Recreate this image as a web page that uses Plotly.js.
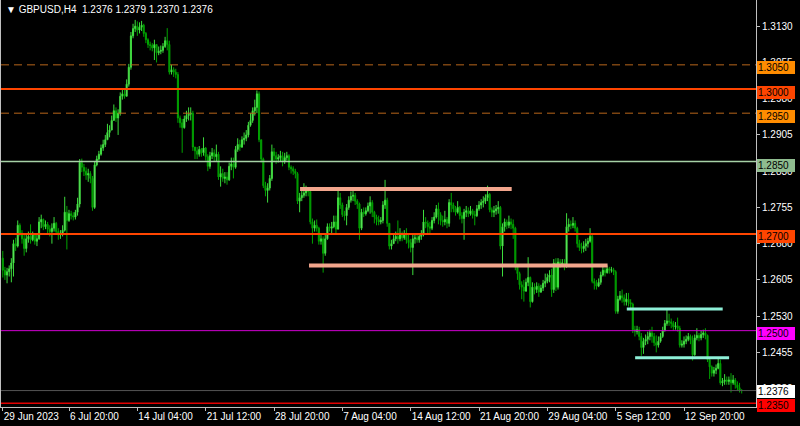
<!DOCTYPE html>
<html><head><meta charset="utf-8">
<script src="https://cdn.plot.ly/plotly-3.0.1.min.js"></script>
<style>html,body{margin:0;padding:0;background:#000;}#chart{width:800px;height:426px;}</style>
</head><body><div id="chart"></div>
<script>
const symbol = 'GBPUSD,H4';
const openP = [
1.2650,1.2625,1.2615,1.2622,1.2628,1.2640,1.2680,1.2675,1.2718,1.2702,
1.2690,1.2670,1.2690,1.2695,1.2688,1.2698,1.2685,1.2690,1.2725,1.2730,
1.2715,1.2720,1.2710,1.2705,1.2712,1.2722,1.2705,1.2698,1.2700,1.2708,
1.2745,1.2728,1.2742,1.2738,1.2735,1.2745,1.2762,1.2848,1.2838,1.2830,
1.2822,1.2825,1.2815,1.2755,1.2843,1.2855,1.2865,1.2878,1.2885,1.2895,
1.2910,1.2915,1.2935,1.2955,1.2940,1.2950,1.2985,1.2990,1.2985,1.3010,
1.3045,1.3110,1.3125,1.3130,1.3122,1.3128,1.3132,1.3115,1.3102,1.3092,
1.3090,1.3085,1.3092,1.3075,1.3078,1.3080,1.3088,1.3100,1.3092,1.3035,
1.3040,1.3035,1.3030,1.2940,1.2930,1.2920,1.2938,1.2945,1.2948,1.2950,
1.2880,1.2872,1.2865,1.2875,1.2868,1.2878,1.2860,1.2840,1.2862,1.2868,
1.2860,1.2865,1.2818,1.2825,1.2815,1.2818,1.2812,1.2840,1.2845,1.2838,
1.2875,1.2885,1.2880,1.2895,1.2898,1.2905,1.2925,1.2935,1.2955,1.2962,
1.2990,1.2895,1.2855,1.2800,1.2790,1.2795,1.2815,1.2870,1.2862,1.2855,
1.2858,1.2862,1.2850,1.2858,1.2862,1.2838,1.2835,1.2830,1.2825,1.2768,
1.2775,1.2780,1.2785,1.2790,1.2788,1.2725,1.2712,1.2718,1.2712,1.2685,
1.2690,1.2660,1.2690,1.2715,1.2712,1.2715,1.2725,1.2710,1.2775,1.2760,
1.2740,1.2738,1.2755,1.2770,1.2778,1.2780,1.2768,1.2762,1.2712,1.2745,
1.2742,1.2748,1.2758,1.2765,1.2745,1.2735,1.2730,1.2725,1.2728,1.2760,
1.2770,1.2722,1.2675,1.2680,1.2690,1.2695,1.2690,1.2700,1.2692,1.2698,
1.2688,1.2682,1.2672,1.2690,1.2692,1.2688,1.2695,1.2698,1.2725,1.2722,
1.2715,1.2712,1.2728,1.2735,1.2752,1.2740,1.2728,1.2725,1.2730,1.2722,
1.2765,1.2760,1.2752,1.2745,1.2755,1.2738,1.2732,1.2745,1.2748,1.2742,
1.2748,1.2740,1.2738,1.2752,1.2760,1.2765,1.2768,1.2775,1.2782,1.2750,
1.2745,1.2748,1.2752,1.2755,1.2675,1.2715,1.2725,1.2718,1.2725,1.2720,
1.2712,1.2632,1.2618,1.2595,1.2590,1.2582,1.2600,1.2610,1.2560,1.2590,
1.2585,1.2592,1.2580,1.2588,1.2598,1.2602,1.2610,1.2615,1.2585,1.2640,
1.2590,1.2642,1.2638,1.2640,1.2635,1.2715,1.2720,1.2718,1.2722,1.2712,
1.2680,1.2672,1.2670,1.2675,1.2680,1.2685,1.2695,1.2602,1.2598,1.2592,
1.2600,1.2615,1.2625,1.2620,1.2628,1.2625,1.2626,1.2622,1.2540,1.2565,
1.2572,1.2568,1.2560,1.2565,1.2558,1.2555,1.2502,1.2498,1.2502,1.2488,
1.2465,1.2478,1.2482,1.2488,1.2495,1.2488,1.2475,1.2470,1.2478,1.2488,
1.2500,1.2515,1.2520,1.2518,1.2515,1.2508,1.2510,1.2505,1.2470,1.2472,
1.2478,1.2482,1.2488,1.2480,1.2450,1.2485,1.2490,1.2485,1.2492,1.2495,
1.2490,1.2440,1.2425,1.2412,1.2418,1.2422,1.2432,1.2392,1.2395,1.2398,
1.2395,1.2398,1.2392,1.2398,1.2388,1.2382,1.2376];
const highP = [
1.2665,1.2632,1.2630,1.2635,1.2650,1.2688,1.2692,1.2728,1.2722,1.2708,
1.2700,1.2698,1.2705,1.2720,1.2705,1.2702,1.2698,1.2735,1.2740,1.2732,
1.2728,1.2725,1.2718,1.2722,1.2735,1.2725,1.2712,1.2708,1.2718,1.2777,
1.2758,1.2750,1.2748,1.2745,1.2750,1.2775,1.2855,1.2856,1.2845,1.2838,
1.2835,1.2830,1.2820,1.2850,1.2862,1.2872,1.2885,1.2895,1.2905,1.2928,
1.2925,1.2945,1.2968,1.2962,1.2958,1.2993,1.2998,1.2998,1.3020,1.3052,
1.3118,1.3135,1.3143,1.3140,1.3138,1.3141,1.3135,1.3118,1.3105,1.3098,
1.3095,1.3102,1.3090,1.3088,1.3090,1.3095,1.3108,1.3126,1.3100,1.3050,
1.3045,1.3042,1.3035,1.2945,1.2938,1.2945,1.2955,1.2962,1.2962,1.2955,
1.2880,1.2880,1.2882,1.2878,1.2900,1.2880,1.2865,1.2870,1.2878,1.2875,
1.2885,1.2870,1.2840,1.2835,1.2828,1.2828,1.2848,1.2858,1.2858,1.2882,
1.2898,1.2895,1.2902,1.2910,1.2915,1.2932,1.2950,1.2962,1.2978,1.2997,
1.2995,1.2895,1.2858,1.2808,1.2805,1.2822,1.2885,1.2878,1.2870,1.2865,
1.2872,1.2870,1.2868,1.2870,1.2865,1.2842,1.2840,1.2835,1.2828,1.2785,
1.2790,1.2805,1.2800,1.2797,1.2795,1.2732,1.2728,1.2730,1.2715,1.2698,
1.2695,1.2700,1.2722,1.2722,1.2725,1.2738,1.2738,1.2790,1.2785,1.2765,
1.2748,1.2762,1.2778,1.2788,1.2790,1.2785,1.2772,1.2765,1.2752,1.2755,
1.2755,1.2765,1.2778,1.2770,1.2748,1.2740,1.2738,1.2735,1.2768,1.2812,
1.2775,1.2722,1.2688,1.2698,1.2705,1.2728,1.2712,1.2705,1.2708,1.2712,
1.2700,1.2690,1.2700,1.2702,1.2698,1.2702,1.2708,1.2750,1.2735,1.2728,
1.2725,1.2735,1.2745,1.2760,1.2765,1.2745,1.2738,1.2748,1.2735,1.2772,
1.2785,1.2765,1.2758,1.2768,1.2758,1.2745,1.2752,1.2758,1.2755,1.2758,
1.2752,1.2748,1.2760,1.2768,1.2772,1.2778,1.2782,1.2800,1.2785,1.2755,
1.2758,1.2760,1.2768,1.2758,1.2722,1.2732,1.2730,1.2738,1.2732,1.2730,
1.2715,1.2635,1.2622,1.2602,1.2605,1.2608,1.2652,1.2612,1.2600,1.2598,
1.2600,1.2598,1.2595,1.2605,1.2618,1.2618,1.2625,1.2628,1.2648,1.2650,
1.2650,1.2648,1.2648,1.2648,1.2743,1.2732,1.2728,1.2735,1.2728,1.2715,
1.2688,1.2682,1.2685,1.2690,1.2692,1.2712,1.2702,1.2608,1.2605,1.2608,
1.2622,1.2635,1.2630,1.2635,1.2632,1.2632,1.2630,1.2625,1.2572,1.2582,
1.2585,1.2575,1.2578,1.2578,1.2565,1.2558,1.2510,1.2510,1.2508,1.2495,
1.2485,1.2492,1.2498,1.2502,1.2508,1.2495,1.2490,1.2488,1.2495,1.2508,
1.2522,1.2545,1.2535,1.2525,1.2520,1.2518,1.2527,1.2510,1.2480,1.2488,
1.2490,1.2495,1.2492,1.2490,1.2492,1.2505,1.2495,1.2500,1.2502,1.2505,
1.2492,1.2442,1.2428,1.2425,1.2430,1.2445,1.2440,1.2402,1.2410,1.2405,
1.2405,1.2412,1.2408,1.2402,1.2395,1.2392,1.2379];
const lowP = [
1.2610,1.2605,1.2598,1.2612,1.2600,1.2612,1.2665,1.2672,1.2695,1.2680,
1.2655,1.2662,1.2682,1.2680,1.2685,1.2678,1.2675,1.2688,1.2712,1.2708,
1.2710,1.2702,1.2695,1.2680,1.2705,1.2698,1.2688,1.2690,1.2695,1.2705,
1.2668,1.2725,1.2730,1.2728,1.2730,1.2738,1.2755,1.2828,1.2820,1.2812,
1.2808,1.2805,1.2748,1.2752,1.2840,1.2852,1.2862,1.2872,1.2880,1.2895,
1.2900,1.2915,1.2935,1.2932,1.2905,1.2945,1.2978,1.2980,1.2985,1.3005,
1.3040,1.3105,1.3118,1.3110,1.3115,1.3120,1.3108,1.3095,1.3085,1.3080,
1.3078,1.3060,1.3055,1.3070,1.3072,1.3075,1.3085,1.3080,1.3030,1.3030,
1.3025,1.3022,1.2930,1.2920,1.2868,1.2918,1.2932,1.2935,1.2935,1.2872,
1.2855,1.2855,1.2860,1.2860,1.2862,1.2852,1.2830,1.2835,1.2855,1.2850,
1.2850,1.2812,1.2798,1.2808,1.2805,1.2802,1.2810,1.2832,1.2815,1.2835,
1.2870,1.2872,1.2878,1.2885,1.2892,1.2900,1.2922,1.2930,1.2945,1.2950,
1.2890,1.2848,1.2795,1.2778,1.2765,1.2790,1.2810,1.2850,1.2845,1.2848,
1.2850,1.2840,1.2845,1.2852,1.2832,1.2825,1.2822,1.2815,1.2762,1.2745,
1.2768,1.2775,1.2778,1.2778,1.2720,1.2680,1.2705,1.2705,1.2678,1.2678,
1.2620,1.2655,1.2688,1.2705,1.2702,1.2712,1.2700,1.2710,1.2752,1.2735,
1.2728,1.2718,1.2750,1.2765,1.2768,1.2760,1.2752,1.2688,1.2708,1.2735,
1.2738,1.2745,1.2742,1.2735,1.2722,1.2718,1.2718,1.2720,1.2722,1.2752,
1.2715,1.2668,1.2668,1.2680,1.2685,1.2680,1.2685,1.2685,1.2688,1.2680,
1.2670,1.2662,1.2615,1.2680,1.2682,1.2682,1.2688,1.2695,1.2712,1.2700,
1.2702,1.2708,1.2722,1.2732,1.2720,1.2718,1.2715,1.2718,1.2712,1.2715,
1.2745,1.2745,1.2738,1.2742,1.2730,1.2722,1.2688,1.2735,1.2735,1.2738,
1.2732,1.2718,1.2735,1.2748,1.2752,1.2755,1.2762,1.2768,1.2745,1.2735,
1.2735,1.2740,1.2742,1.2668,1.2612,1.2705,1.2710,1.2712,1.2710,1.2690,
1.2625,1.2605,1.2585,1.2565,1.2560,1.2580,1.2592,1.2548,1.2558,1.2575,
1.2578,1.2570,1.2578,1.2582,1.2590,1.2598,1.2600,1.2570,1.2578,1.2582,
1.2585,1.2630,1.2632,1.2625,1.2630,1.2705,1.2710,1.2712,1.2705,1.2672,
1.2665,1.2660,1.2662,1.2665,1.2672,1.2682,1.2598,1.2585,1.2585,1.2590,
1.2595,1.2612,1.2612,1.2618,1.2618,1.2620,1.2615,1.2535,1.2535,1.2562,
1.2558,1.2552,1.2552,1.2550,1.2545,1.2495,1.2488,1.2492,1.2480,1.2448,
1.2452,1.2470,1.2472,1.2480,1.2475,1.2468,1.2455,1.2465,1.2475,1.2485,
1.2498,1.2510,1.2510,1.2505,1.2500,1.2502,1.2498,1.2465,1.2465,1.2465,
1.2472,1.2478,1.2472,1.2438,1.2448,1.2480,1.2478,1.2480,1.2485,1.2482,
1.2435,1.2400,1.2405,1.2405,1.2410,1.2420,1.2388,1.2385,1.2388,1.2388,
1.2388,1.2372,1.2388,1.2380,1.2375,1.2372,1.2370];
const closeP = [
1.2625,1.2615,1.2622,1.2628,1.2640,1.2680,1.2675,1.2718,1.2702,1.2690,
1.2670,1.2690,1.2695,1.2688,1.2698,1.2685,1.2690,1.2725,1.2730,1.2715,
1.2720,1.2710,1.2705,1.2712,1.2722,1.2705,1.2698,1.2700,1.2708,1.2745,
1.2728,1.2742,1.2738,1.2735,1.2745,1.2762,1.2848,1.2838,1.2830,1.2822,
1.2825,1.2815,1.2755,1.2843,1.2855,1.2865,1.2878,1.2885,1.2895,1.2910,
1.2915,1.2935,1.2955,1.2940,1.2950,1.2985,1.2990,1.2985,1.3010,1.3045,
1.3110,1.3125,1.3130,1.3122,1.3128,1.3132,1.3115,1.3102,1.3092,1.3090,
1.3085,1.3092,1.3075,1.3078,1.3080,1.3088,1.3100,1.3092,1.3035,1.3040,
1.3035,1.3030,1.2940,1.2930,1.2920,1.2938,1.2945,1.2948,1.2950,1.2880,
1.2872,1.2865,1.2875,1.2868,1.2878,1.2860,1.2840,1.2862,1.2868,1.2860,
1.2865,1.2818,1.2825,1.2815,1.2818,1.2812,1.2840,1.2845,1.2838,1.2875,
1.2885,1.2880,1.2895,1.2898,1.2905,1.2925,1.2935,1.2955,1.2962,1.2990,
1.2895,1.2855,1.2800,1.2790,1.2795,1.2815,1.2870,1.2862,1.2855,1.2858,
1.2862,1.2850,1.2858,1.2862,1.2838,1.2835,1.2830,1.2825,1.2768,1.2775,
1.2780,1.2785,1.2790,1.2788,1.2725,1.2712,1.2718,1.2712,1.2685,1.2690,
1.2660,1.2690,1.2715,1.2712,1.2715,1.2725,1.2710,1.2775,1.2760,1.2740,
1.2738,1.2755,1.2770,1.2778,1.2780,1.2768,1.2762,1.2712,1.2745,1.2742,
1.2748,1.2758,1.2765,1.2745,1.2735,1.2730,1.2725,1.2728,1.2760,1.2770,
1.2722,1.2675,1.2680,1.2690,1.2695,1.2690,1.2700,1.2692,1.2698,1.2688,
1.2682,1.2672,1.2690,1.2692,1.2688,1.2695,1.2698,1.2725,1.2722,1.2715,
1.2712,1.2728,1.2735,1.2752,1.2740,1.2728,1.2725,1.2730,1.2722,1.2765,
1.2760,1.2752,1.2745,1.2755,1.2738,1.2732,1.2745,1.2748,1.2742,1.2748,
1.2740,1.2738,1.2752,1.2760,1.2765,1.2768,1.2775,1.2782,1.2750,1.2745,
1.2748,1.2752,1.2755,1.2675,1.2715,1.2725,1.2718,1.2725,1.2720,1.2712,
1.2632,1.2618,1.2595,1.2590,1.2582,1.2600,1.2610,1.2560,1.2590,1.2585,
1.2592,1.2580,1.2588,1.2598,1.2602,1.2610,1.2615,1.2585,1.2640,1.2590,
1.2642,1.2638,1.2640,1.2635,1.2715,1.2720,1.2718,1.2722,1.2712,1.2680,
1.2672,1.2670,1.2675,1.2680,1.2685,1.2695,1.2602,1.2598,1.2592,1.2600,
1.2615,1.2625,1.2620,1.2628,1.2625,1.2626,1.2622,1.2540,1.2565,1.2572,
1.2568,1.2560,1.2565,1.2558,1.2555,1.2502,1.2498,1.2502,1.2488,1.2465,
1.2478,1.2482,1.2488,1.2495,1.2488,1.2475,1.2470,1.2478,1.2488,1.2500,
1.2515,1.2520,1.2518,1.2515,1.2508,1.2510,1.2505,1.2470,1.2472,1.2478,
1.2482,1.2488,1.2480,1.2450,1.2485,1.2490,1.2485,1.2492,1.2495,1.2490,
1.2440,1.2425,1.2412,1.2418,1.2422,1.2432,1.2392,1.2395,1.2398,1.2395,
1.2398,1.2392,1.2398,1.2388,1.2382,1.2376,1.2376];

const timeTickBars = [0,31,63,95,127,159,191,223,255,287,319];
const timeTickLabels = ['29 Jun 2023','6 Jul 20:00','14 Jul 04:00','21 Jul 12:00','28 Jul 20:00','7 Aug 04:00','14 Aug 12:00','21 Aug 20:00','29 Aug 04:00','5 Sep 12:00','12 Sep 20:00'];
const priceTicks = [1.3130,1.3055,1.2980,1.2905,1.2830,1.2755,1.2680,1.2605,1.2530,1.2455,1.2380];

const levelPrices = [1.3050,1.3000,1.2950,1.2850,1.2700,1.2500,1.2376,1.2350];
const zonePrices = [1.2793,1.2635,1.2545,1.2444];
const zoneFromBar = [139.2,143.4,292.2,296.1];
const zoneToBar = [238.3,283.2,337.1,340.1];

// styles (not data)
const levelLine = [
  {color:'#b8661a', width:1, dash:'8px,5px', box:'#ff8c00'},
  {color:'#ff4500', width:2, dash:'solid', box:'#ff4500'},
  {color:'#b8661a', width:1, dash:'8px,5px', box:'#ff8c00'},
  {color:'#a6d2a6', width:1.5, dash:'solid', box:'#8fbc8f'},
  {color:'#ff4500', width:2, dash:'solid', box:'#ff4500'},
  {color:'#d000d0', width:1, dash:'solid', box:'#ff00ff'},
  {color:'#555555', width:1, dash:'solid', box:'#ffffff'},
  {color:'#e00000', width:1.5, dash:'solid', box:'#ff0000'}
];
const labelShift = [-3,-3,-3,-4,-3,-3,-1,-2];
const zoneStyle = [
  {color:'#f2a58c', width:4},
  {color:'#f2a58c', width:4},
  {color:'#8ef0d8', width:3},
  {color:'#8ef0d8', width:3}
];

const barX = closeP.map((_, i) => i);
const FONT = 'Liberation Sans, Arial, sans-serif';

const shapes = [];
levelPrices.forEach((p, k) => {
  shapes.push({type:'line', xref:'paper', x0:0, x1:1, yref:'y', y0:p, y1:p,
    line:{color:levelLine[k].color, width:levelLine[k].width, dash:levelLine[k].dash}, layer:'above'});
});
zonePrices.forEach((p, k) => {
  shapes.push({type:'line', xref:'x', x0:zoneFromBar[k], x1:zoneToBar[k], yref:'y', y0:p, y1:p,
    line:{color:zoneStyle[k].color, width:zoneStyle[k].width}, layer:'above'});
});

const annotations = levelPrices.map((p, k) => ({
  xref:'paper', x:1, xanchor:'left', xshift:1,
  yref:'y', y:p, yanchor:'middle', yshift:labelShift[k],
  text:p.toFixed(4), showarrow:false, align:'left',
  font:{family:FONT, size:10, color:'#000000'},
  bgcolor:levelLine[k].box, bordercolor:levelLine[k].box, borderwidth:0, borderpad:1,
  width:36, height:11
}));
const last = closeP.length - 1;
annotations.push({
  xref:'paper', x:0.004, xanchor:'left', yref:'paper', y:1, yanchor:'top', yshift:-2,
  showarrow:false, align:'left',
  text:'\u25BC ' + symbol + '\u00a0\u00a0' + [openP[last], highP[last], lowP[last], closeP[last]].map(v => v.toFixed(4)).join(' '),
  font:{family:FONT, size:10, color:'#ffffff'}
});

const trace = {
  type:'candlestick', x:barX, open:openP, high:highP, low:lowP, close:closeP,
  increasing:{line:{color:'#3ddc3d', width:1}, fillcolor:'#9bf59b'},
  decreasing:{line:{color:'#00a400', width:1}, fillcolor:'#008800'},
  whiskerwidth:0, hoverinfo:'skip', showlegend:false
};

const layout = {
  width:800, height:426,
  margin:{l:1, r:44, t:0, b:19, pad:0},
  paper_bgcolor:'#000000', plot_bgcolor:'#000000',
  showlegend:false,
  font:{family:FONT, size:10, color:'#ffffff'},
  xaxis:{
    range:[-0.84, 352.7], showgrid:false, zeroline:false,
    rangeslider:{visible:false}, automargin:false,
    tickmode:'array', tickvals:timeTickBars, ticktext:timeTickLabels,
    tickangle:0,
    ticks:'outside', ticklen:3, tickcolor:'#c0c0c0', tickwidth:1,
    ticklabelposition:'outside right',
    tickfont:{family:FONT, size:10, color:'#ffffff'},
    showline:true, linecolor:'#c0c0c0', linewidth:1
  },
  yaxis:{
    side:'right', range:[1.23420, 1.31842], showgrid:false, zeroline:false,
    automargin:false,
    tickmode:'array', tickvals:priceTicks, ticktext:priceTicks.map(v => v.toFixed(4)),
    ticks:'outside', ticklen:3, tickcolor:'#c0c0c0', tickwidth:1,
    tickfont:{family:FONT, size:10, color:'#ffffff'},
    showline:true, mirror:true, linecolor:'#c0c0c0', linewidth:1
  },
  shapes:shapes,
  annotations:annotations
};

Plotly.newPlot('chart', [trace], layout, {displayModeBar:false, staticPlot:true});
</script>
</body></html>
